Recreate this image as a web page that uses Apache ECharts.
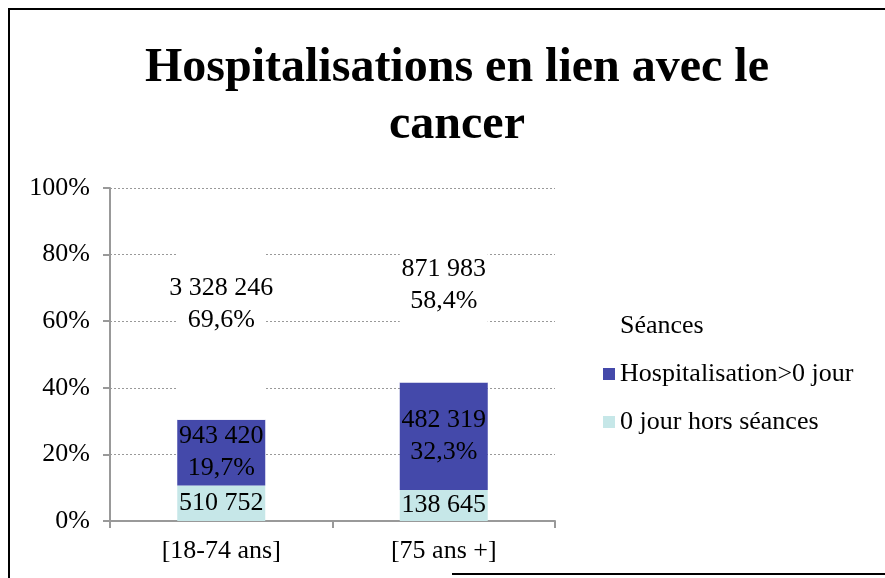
<!DOCTYPE html>
<html>
<head>
<meta charset="utf-8">
<script src="https://cdn.jsdelivr.net/npm/echarts@6/dist/echarts.min.js"></script>
<style>
  html, body { margin: 0; padding: 0; background: #fff; }
  #chart { width: 885px; height: 578px; }
</style>
</head>
<body>
<div id="chart"></div>
<script>
// données
const categories = ['[18-74 ans]', '[75 ans +]']
const zeroJour = [510752, 138645]
const hospit = [943420, 482319]
const seances = [3328246, 871983]
const yTicks = [0, 20, 40, 60, 80, 100]

const totals = categories.map((c, i) => zeroJour[i] + hospit[i] + seances[i])
const pct = (arr) => arr.map((v, i) => v / totals[i] * 100)

// 3328246 -> "3 328 246"
const fmtNum = (v) => String(v).replace(/\B(?=(\d{3})+(?!\d))/g, ' ')
const fmtPct = (p) => p.toFixed(1).replace('.', ',') + '%'

const serif = 'Liberation Serif'
const grey = '#999'
const labelBase = { show: true, position: 'inside', color: '#000', fontFamily: serif, fontSize: 26, lineHeight: 32 }

const chart = echarts.init(document.getElementById('chart'))
chart.setOption({
  animation: false,
  title: {
    text: 'Hospitalisations en lien avec le\ncancer',
    left: 452,
    textAlign: 'center',
    top: 35,
    textStyle: { fontFamily: serif, fontWeight: 'bold', fontSize: 48, lineHeight: 57, color: '#000' }
  },
  legend: {
    orient: 'vertical',
    left: 603,
    top: 313,
    padding: 0,
    itemGap: 22,
    itemWidth: 12,
    itemHeight: 12,
    icon: 'rect',
    data: ['Séances', 'Hospitalisation>0 jour', '0 jour hors séances'],
    textStyle: { fontFamily: serif, fontSize: 26, lineHeight: 26, color: '#000' }
  },
  grid: { left: 110, right: 330, top: 188, bottom: 57 },
  xAxis: {
    type: 'category',
    data: categories,
    axisLine: { lineStyle: { color: grey, width: 2 } },
    axisTick: { show: true, length: 7, lineStyle: { color: grey, width: 2 } },
    axisLabel: { fontFamily: serif, fontSize: 26, color: '#000', margin: 17 }
  },
  yAxis: {
    type: 'value',
    min: yTicks[0],
    max: yTicks[yTicks.length - 1],
    interval: 20,
    axisLine: { show: true, lineStyle: { color: grey, width: 2 } },
    axisTick: { show: true, length: 7, lineStyle: { color: grey, width: 2 } },
    axisLabel: { fontFamily: serif, fontSize: 26, color: '#000', margin: 20, formatter: '{value}%' },
    splitLine: { lineStyle: { color: grey, type: [2, 2], width: 1 } }
  },
  series: [
    {
      name: '0 jour hors séances',
      type: 'bar',
      stack: 'total',
      barWidth: 88,
      data: pct(zeroJour),
      itemStyle: { color: '#c6e7e8' },
      label: Object.assign({}, labelBase, { formatter: (p) => fmtNum(zeroJour[p.dataIndex]) })
    },
    {
      name: 'Hospitalisation>0 jour',
      type: 'bar',
      stack: 'total',
      data: pct(hospit),
      itemStyle: { color: '#4449aa' },
      label: Object.assign({}, labelBase, { formatter: (p) => fmtNum(hospit[p.dataIndex]) + '\n' + fmtPct(p.value) })
    },
    {
      name: 'Séances',
      type: 'bar',
      stack: 'total',
      data: pct(seances),
      itemStyle: { color: '#fff' },
      label: Object.assign({}, labelBase, { formatter: (p) => fmtNum(seances[p.dataIndex]) + '\n' + fmtPct(p.value) }),
      // la ligne 100% reste visible au-dessus des barres blanches
      markLine: {
        silent: true,
        symbol: 'none',
        label: { show: false },
        lineStyle: { color: grey, type: [2, 2], width: 1 },
        data: [{ yAxis: yTicks[yTicks.length - 1] }]
      }
    }
  ],
  graphic: [
    { type: 'polyline', shape: { points: [[9, 578], [9, 9], [885, 9]] }, style: { stroke: '#000', lineWidth: 2, fill: null } },
    { type: 'line', shape: { x1: 452, y1: 574, x2: 885, y2: 574 }, style: { stroke: '#000', lineWidth: 2 } }
  ]
})
</script>
</body>
</html>
